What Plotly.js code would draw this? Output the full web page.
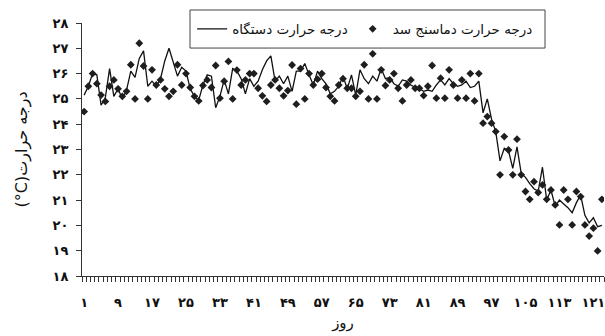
<!DOCTYPE html>
<html><head><meta charset="utf-8">
<script src="https://cdn.plot.ly/plotly-3.0.1.min.js"></script>
<style>html,body{margin:0;padding:0;background:#fff}#chart{width:605px;height:336px}</style>
</head><body><div id="chart"></div>
<script>
// Days 1..123
const days = Array.from({length: 123}, (_, i) => i + 1);

// Device temperature (line)
const deviceTemp = [
 25.15, 25.5, 26.0, 25.95, 24.75, 25.05, 26.2, 25.1, 25.4, 25.0,
 25.35, 26.1, 25.85, 26.6, 26.9, 25.5, 25.7, 25.5, 25.8, 26.5,
 27.0, 26.4, 25.9, 26.25, 26.1, 25.4, 25.1, 24.95, 25.55, 25.95,
 25.9, 24.65, 25.1, 25.75, 25.2, 26.2, 26.1, 25.8, 25.2, 25.8,
 25.5, 25.7, 26.15, 26.5, 26.7, 25.7, 25.9, 25.6, 25.9, 25.3,
 26.1, 26.1, 26.4, 25.95, 25.55, 26.1, 25.8, 25.6, 25.2, 25.3,
 25.5, 25.9, 25.4, 25.95, 25.15, 26.15, 25.8, 25.6, 25.9, 25.7,
 26.2, 25.8, 25.85, 25.6, 25.5, 25.75, 25.7, 25.55, 25.45, 25.4,
 25.3, 25.35, 25.3, 25.55, 25.75, 25.55, 25.8, 25.6, 25.5, 25.55,
 25.7, 25.45, 25.5, 25.7, 24.45, 25.0, 24.2, 23.7, 22.55, 23.05,
 22.95, 22.25, 23.1, 22.05, 21.9, 21.65, 21.45, 21.35, 22.3, 21.0,
 21.4, 20.75, 21.0, 20.85, 20.7, 20.5, 20.9, 21.2, 20.4, 20.1,
 20.3, 19.95, 20.0
];

// Dam thermometer temperature (diamonds)
const damTemp = [
 24.5, 25.5, 26.0, 25.6, 25.15, 24.9, 25.5, 25.75, 25.4, 25.1,
 25.3, 26.35, 25.0, 27.2, 26.3, 25.0, 26.15, 25.55, 25.75, 25.4,
 25.1, 25.3, 26.35, 25.55, 26.0, 25.45, 25.1, 24.92, 25.53, 25.75,
 25.45, 26.32, 25.03, 25.7, 26.48, 25.0, 26.14, 25.55, 25.75, 26.0,
 26.0, 25.42, 25.12, 24.9, 25.55, 25.75, 25.42, 25.12, 25.33, 26.34,
 24.79, 26.2, 25.0, 26.0, 25.55, 25.78, 26.0, 25.45, 25.1, 24.92,
 25.55, 25.8, 25.42, 25.42, 25.1, 25.3, 26.35, 25.0, 26.78, 25.0,
 26.15, 25.53, 25.75, 26.0, 25.42, 24.92, 25.55, 25.75, 25.42, 25.42,
 25.13, 25.5, 26.32, 25.03, 25.82, 25.03, 26.15, 25.55, 25.03, 25.75,
 25.03, 26.0, 24.92, 26.0, 24.04, 24.3, 24.04, 23.71, 22.0, 23.51,
 22.98, 22.0, 23.41, 22.0, 21.34, 21.03, 21.73, 21.3, 21.6, 21.03,
 21.4, 20.81, 20.02, 21.4, 21.03, 20.02, 21.34, 21.14, 20.02, 19.58,
 19.89, 18.99, 21.03
];

const xTickVals = [1, 9, 17, 25, 33, 41, 49, 57, 65, 73, 81, 89, 97, 105, 113, 121];
const xTickText = ['۱','۹','۱۷','۲۵','۳۳','۴۱','۴۹','۵۷','۶۵','۷۳','۸۱','۸۹','۹۷','۱۰۵','۱۱۳','۱۲۱'];
const yTickVals = [18, 19, 20, 21, 22, 23, 24, 25, 26, 27, 28];
const yTickText = ['۱۸','۱۹','۲۰','۲۱','۲۲','۲۳','۲۴','۲۵','۲۶','۲۷','۲۸'];

const seriesDevice = 'درجه حرارت دستگاه';
const seriesDam = 'درجه حرارت دماسنج سد';
const yTitle = '(°C)درجه حرارت';
const xTitle = 'روز';

const font = 'DejaVu Sans, sans-serif';

const traces = [
  {x: days, y: deviceTemp, name: seriesDevice, type: 'scatter', mode: 'lines',
   line: {color: '#111', width: 1.3}},
  {x: days, y: damTemp, name: seriesDam, type: 'scatter', mode: 'markers',
   marker: {symbol: 'diamond', size: 6, color: '#1e1e1e'}}
];

const layout = {
  width: 605, height: 336,
  margin: {l: 82, r: 1, t: 23, b: 60},
  paper_bgcolor: '#fff', plot_bgcolor: '#fff',
  font: {family: font, color: '#111'},
  showlegend: true,
  legend: {orientation: 'h', x: 0.211, xanchor: 'left', y: 0.976, yanchor: 'middle',
    borderwidth: 0, bgcolor: 'rgba(0,0,0,0)', itemwidth: 30,
    font: {family: font, size: 13.5, color: '#111'}, traceorder: 'normal'},
  shapes: [{type: 'rect', xref: 'paper', yref: 'paper',
    x0: 0.2069, x1: 0.887, y0: 0.901, y1: 1.0514,
    line: {color: '#444', width: 1}, fillcolor: '#fff', layer: 'above'}],
  xaxis: {
    range: [0.5, 123.5], showgrid: false, zeroline: false,
    showline: true, linecolor: '#333', linewidth: 1,
    tickmode: 'array', tickvals: xTickVals, ticktext: xTickText,
    ticks: '', ticklabelstandoff: 14, ticklabeloverflow: 'allow',
    tickfont: {family: font, size: 13, color: '#111', weight: 'bold'},
    minor: {tick0: 0.5, dtick: 1, ticks: 'outside', ticklen: 5, tickcolor: '#333', tickwidth: 1, showgrid: false},
    title: {text: xTitle, font: {family: font, size: 15, color: '#111'}, standoff: 8}
  },
  yaxis: {
    range: [18, 28], showgrid: false, zeroline: false,
    showline: true, linecolor: '#333', linewidth: 1,
    tickmode: 'array', tickvals: yTickVals, ticktext: yTickText,
    ticks: 'outside', ticklen: 5, tickcolor: '#333',
    ticklabelstandoff: 5,
    tickfont: {family: font, size: 13, color: '#111', weight: 'bold'}
  },
  annotations: [{
    text: yTitle, textangle: -90, showarrow: false,
    xref: 'paper', yref: 'paper', x: -0.115, y: 0.5, xanchor: 'center', yanchor: 'middle',
    font: {family: font, size: 16, color: '#111'}
  }]
};

Plotly.newPlot('chart', traces, layout, {displayModeBar: false, staticPlot: true});
</script></body></html>
